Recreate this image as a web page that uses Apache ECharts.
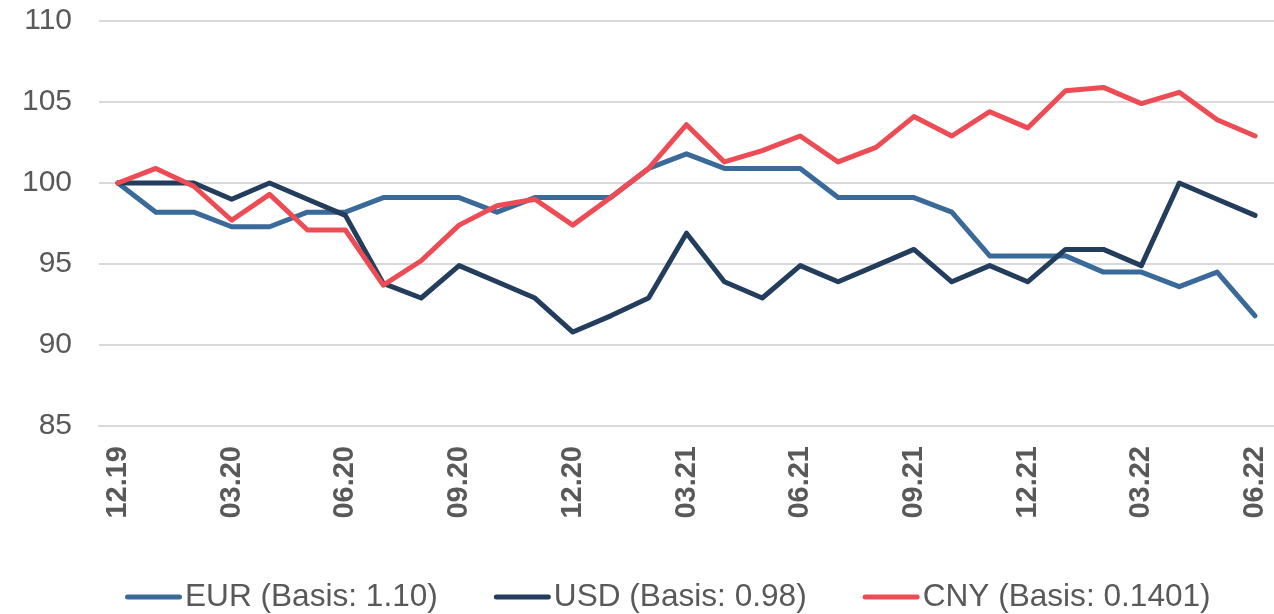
<!DOCTYPE html>
<html><head><meta charset="utf-8">
<script src="https://cdn.jsdelivr.net/npm/echarts@6/dist/echarts.min.js"></script>
<style>html,body{margin:0;padding:0;background:#fff}#c{width:1274px;height:614px}</style>
</head><body><div id="c"></div>
<script>
const categories = ['12.19','01.20','02.20','03.20','04.20','05.20','06.20','07.20','08.20','09.20','10.20','11.20','12.20','01.21','02.21','03.21','04.21','05.21','06.21','07.21','08.21','09.21','10.21','11.21','12.21','01.22','02.22','03.22','04.22','05.22','06.22'];
const eur = [100,98.2,98.2,97.3,97.3,98.2,98.2,99.1,99.1,99.1,98.2,99.1,99.1,99.1,100.9,101.8,100.9,100.9,100.9,99.1,99.1,99.1,98.2,95.5,95.5,95.5,94.5,94.5,93.6,94.5,91.8];
const usd = [100,100,100,99.0,100,99.0,98.0,93.8,92.9,94.9,93.9,92.9,90.8,91.8,92.9,96.9,93.9,92.9,94.9,93.9,94.9,95.9,93.9,94.9,93.9,95.9,95.9,94.9,100,99.0,98.0];
const cny = [100,100.9,99.8,97.7,99.3,97.1,97.1,93.7,95.2,97.4,98.6,99.0,97.4,99.1,100.9,103.6,101.3,102.0,102.9,101.3,102.2,104.1,102.9,104.4,103.4,105.7,105.9,104.9,105.6,103.9,102.9];
const seriesNames = ['EUR (Basis: 1.10)','USD (Basis: 0.98)','CNY (Basis: 0.1401)'];
const colors = ['#3a6a9a','#233d5c','#ee4c55'];
const yTicks = {min:85,max:110,interval:5};

const chart = echarts.init(document.getElementById('c'));
const font = 'Liberation Sans, Arial, sans-serif';
const legendIcon = 'path://M2.5,0 L54.5,0 A2.5,2.5 0 0 1 54.5,5 L2.5,5 A2.5,2.5 0 0 1 2.5,0 Z';
chart.setOption({
  animation:false,
  color: colors,
  grid:{left:99,right:0,top:21,bottom:188},
  legend:{
    bottom:1,left:125,padding:0,itemGap:56,itemWidth:57,itemHeight:5,
    icon:legendIcon,
    textStyle:{fontFamily:font,fontSize:31.6,color:'#595959',padding:[0,0,0,-2]},
    data:seriesNames
  },
  xAxis:{
    type:'category',data:categories,boundaryGap:true,
    axisLine:{lineStyle:{color:'#d9d9d9',width:2}},
    axisTick:{interval:1,length:9,lineStyle:{color:'#d9d9d9',width:2}},
    axisLabel:{interval:2,rotate:90,margin:20,fontFamily:font,fontSize:29,fontWeight:'bold',color:'#595959'}
  },
  yAxis:{
    type:'value',min:yTicks.min,max:yTicks.max,interval:yTicks.interval,
    axisLine:{show:false},axisTick:{show:false},
    splitLine:{lineStyle:{color:'#d9d9d9',width:2}},
    axisLabel:{margin:27,fontFamily:font,fontSize:30,color:'#595959'}
  },
  series:[eur,usd,cny].map((d,i)=>({
    name:seriesNames[i],type:'line',data:d,symbol:'none',
    lineStyle:{width:5,color:colors[i],cap:'round',join:'round'}
  }))
});
</script></body></html>
